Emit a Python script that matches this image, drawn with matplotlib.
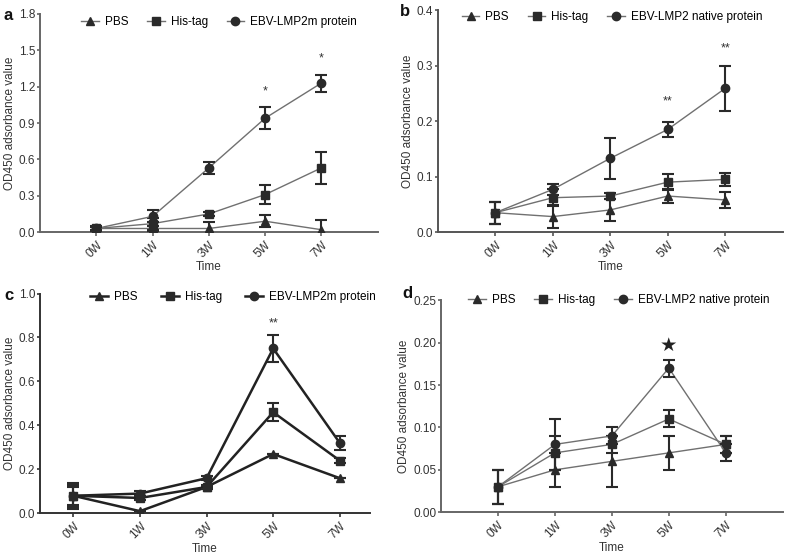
import matplotlib
matplotlib.use("Agg")
import matplotlib.pyplot as plt
import numpy as np

plt.rcParams['font.family'] = ['Liberation Sans', 'DejaVu Sans']

weeks = ["0W", "1W", "3W", "5W", "7W"]
series_names = ["PBS", "His-tag"]

# panel a
a_pbs = [0.03, 0.03, 0.03, 0.09, 0.02]
a_pbs_err = [0.02, 0.02, 0.05, 0.05, 0.08]
a_his = [0.03, 0.07, 0.15, 0.31, 0.53]
a_his_err = [0.01, 0.05, 0.02, 0.08, 0.13]
a_ebv = [0.03, 0.13, 0.53, 0.94, 1.23]
a_ebv_err = [0.01, 0.05, 0.05, 0.09, 0.07]
a_stars = [(3, 1.16, "*"), (4, 1.43, "*")]

# panel b
b_pbs = [0.035, 0.028, 0.040, 0.065, 0.058]
b_pbs_err = [0.020, 0.020, 0.020, 0.012, 0.015]
b_his = [0.035, 0.062, 0.065, 0.090, 0.095]
b_his_err = [0.020, 0.015, 0.005, 0.015, 0.012]
b_ebv = [0.035, 0.077, 0.133, 0.185, 0.259]
b_ebv_err = [0.020, 0.010, 0.037, 0.013, 0.040]
b_stars = [(3, 0.235, "**"), (4, 0.330, "**")]

# panel c
c_pbs = [0.08, 0.01, 0.12, 0.27, 0.16]
c_pbs_err = [0.05, 0.0, 0.0, 0.0, 0.0]
c_his = [0.08, 0.07, 0.12, 0.46, 0.24]
c_his_err = [0.06, 0.01, 0.01, 0.04, 0.01]
c_ebv = [0.08, 0.09, 0.16, 0.75, 0.32]
c_ebv_err = [0.04, 0.01, 0.01, 0.06, 0.03]
c_stars = [(3, 0.865, "**")]

# panel d
d_pbs = [0.03, 0.05, 0.06, 0.07, 0.08]
d_pbs_err = [0.02, 0.02, 0.03, 0.02, 0.01]
d_his = [0.03, 0.07, 0.08, 0.11, 0.08]
d_his_err = [0.02, 0.02, 0.01, 0.01, 0.01]
d_ebv = [0.03, 0.08, 0.09, 0.17, 0.07]
d_ebv_err = [0.02, 0.03, 0.01, 0.01, 0.01]
d_stars = [(3, 0.197, "\u2605")]

panels = [
    dict(letter="a", lpos=(4, 15), rect=[0.0507, 0.584, 0.428, 0.391], ylim=1.8, yticks=np.arange(0, 1.81, 0.3), fmt="%.1f",
         xlim=(-1, 5), data=[(a_pbs, a_pbs_err), (a_his, a_his_err), (a_ebv, a_ebv_err)],
         ebv="EBV-LMP2m protein", stars=a_stars, leg=(0.53, 0.963), lc="#707070", sc="#666666", lw=1.0, cs=1.6),
    dict(letter="b", lpos=(400, 12), rect=[0.555, 0.584, 0.437, 0.398], ylim=0.4, yticks=np.arange(0, 0.41, 0.1), fmt="%.1f",
         xlim=(-1, 5), data=[(b_pbs, b_pbs_err), (b_his, b_his_err), (b_ebv, b_ebv_err)],
         ebv="EBV-LMP2 native protein", stars=b_stars, leg=(0.505, 0.968), lc="#707070", sc="#555555", lw=1.0, cs=1.6),
    dict(letter="c", lpos=(4, 295), rect=[0.0507, 0.080, 0.418, 0.394], ylim=1.0, yticks=np.arange(0, 1.01, 0.2), fmt="%.1f",
         xlim=(-0.5, 4.45), data=[(c_pbs, c_pbs_err), (c_his, c_his_err), (c_ebv, c_ebv_err)],
         ebv="EBV-LMP2m protein", stars=c_stars, leg=(0.585, 0.985), lc="#222222", sc="#333333", lw=1.8, cs=2.0),
    dict(letter="d", lpos=(402, 293), rect=[0.559, 0.082, 0.433, 0.380], ylim=0.25, yticks=np.arange(0, 0.251, 0.05), fmt="%.2f",
         xlim=(-1, 5), data=[(d_pbs, d_pbs_err), (d_his, d_his_err), (d_ebv, d_ebv_err)],
         ebv="EBV-LMP2 native protein", stars=d_stars, leg=(0.52, 1.0), lc="#707070", sc="#666666", lw=1.0, cs=1.6),
]

markers = ['^', 's', 'o']
W, H = 789, 558
fig = plt.figure(figsize=(W / 100, H / 100), dpi=100)
x = np.arange(len(weeks))

for p in panels:
    ax = fig.add_axes(p["rect"])
    names = series_names + [p["ebv"]]
    for i, (vals, errs) in enumerate(p["data"]):
        ax.plot(x, vals, color=p["lc"], lw=p["lw"], marker=markers[i], markersize=6,
                mfc="#2a2a2a", mec="#2a2a2a", label=names[i], zorder=3)
        ax.errorbar(x, vals, yerr=errs, fmt="none", ecolor="#2a2a2a", elinewidth=1.5,
                    capsize=4, capthick=1.5, zorder=3)
    for xi, yv, s in p["stars"]:
        if s == "\u2605":
            ax.text(xi, yv, s, ha="center", va="center", fontsize=14, color="#222222", family=['DejaVu Sans'])
        else:
            ax.text(xi, yv, s, ha="center", va="center", fontsize=9, color="#333333")
    ax.set_xlim(*p["xlim"])
    ax.set_ylim(0, p["ylim"])
    ax.set_yticks(p["yticks"])
    ax.set_yticklabels([p["fmt"] % v for v in p["yticks"]])
    ax.set_xticks(x)
    ax.set_xticklabels(weeks, rotation=45, ha="right", rotation_mode="anchor")
    for s in ["top", "right"]:
        ax.spines[s].set_visible(False)
    for s in ["left", "bottom"]:
        ax.spines[s].set_color(p["sc"])
        ax.spines[s].set_linewidth(1.4)
    ax.tick_params(axis="y", colors=p["sc"], labelcolor="#333333", labelsize=8.5, width=1.2, length=2.5, pad=1)
    ax.tick_params(axis="x", colors=p["sc"], labelcolor="#333333", labelsize=8.5, width=1.2, length=3, pad=2)
    ax.set_xlabel("Time", fontsize=8.5, color="#333333", labelpad=1)
    ax.set_ylabel("OD450 adsorbance value", fontsize=8.5, color="#333333", labelpad=2)
    ax.legend(loc="center", bbox_to_anchor=p["leg"], ncol=3, frameon=False, fontsize=8.5,
              handlelength=1.5, columnspacing=p["cs"], handletextpad=0.5, borderaxespad=0)
    fig.text(p["lpos"][0] / W, 1 - p["lpos"][1] / H, p["letter"], fontsize=12, fontweight="bold",
             ha="left", va="center", color="#111111")

fig.savefig("out.png", dpi=100)
